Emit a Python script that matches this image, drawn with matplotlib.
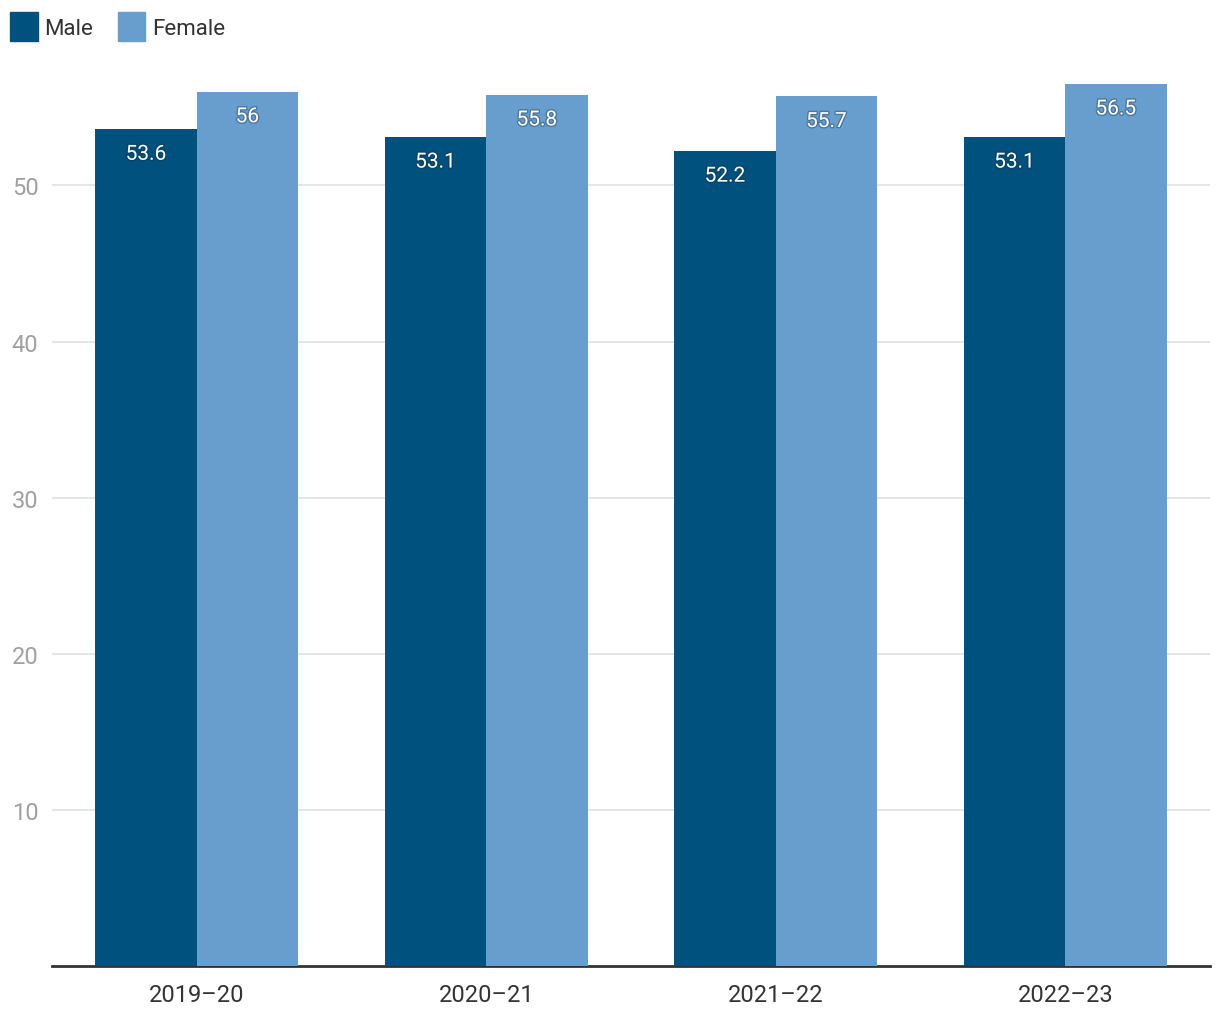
import numpy as np
import matplotlib.pyplot as plt
import matplotlib.patheffects as pe
from matplotlib.patches import Patch

plt.rcParams['font.family'] = ['Roboto', 'DejaVu Sans']

years = ['2019–20', '2020–21', '2021–22', '2022–23']
male = [53.6, 53.1, 52.2, 53.1]
female = [56, 55.8, 55.7, 56.5]
labels_male = ['53.6', '53.1', '52.2', '53.1']
labels_female = ['56', '55.8', '55.7', '56.5']

male_color = '#00517d'
female_color = '#679ece'

fig = plt.figure(figsize=(12.2, 10.2), dpi=100)
ax = fig.add_axes([52 / 1220, 1 - 967 / 1020, 1158 / 1220, (967 - 60) / 1020])

x = np.arange(len(years))
w = 0.35
b1 = ax.bar(x - w / 2, male, w, color=male_color, zorder=3)
b2 = ax.bar(x + w / 2, female, w, color=female_color, zorder=3)

# soft dark halo behind the white value labels
shadow = [pe.withStroke(linewidth=2, foreground='#1a2a3a', alpha=0.35)]
for bars, labs in ((b1, labels_male), (b2, labels_female)):
    for rect, lab in zip(bars, labs):
        ax.annotate(lab, (rect.get_x() + rect.get_width() / 2, rect.get_height()),
                    xytext=(0, -18), textcoords='offset points', ha='center', va='center',
                    color='white', fontsize=15, zorder=4, path_effects=shadow)

ax.set_xlim(-0.5, 3.5)
ax.set_ylim(0, 58.1)
ax.set_yticks([10, 20, 30, 40, 50])
ax.set_xticks(x)
ax.set_xticklabels(years)
ax.grid(axis='y', color='#e3e3e3', linewidth=1.3, zorder=0)
for s in ['top', 'right', 'left']:
    ax.spines[s].set_visible(False)
ax.spines['bottom'].set_color('#333333')
ax.spines['bottom'].set_linewidth(2)
ax.tick_params(axis='y', length=0, labelsize=17, labelcolor='#a0a0a0', pad=29)
ax.tick_params(axis='x', length=0, labelsize=17, labelcolor='#333333', pad=12)
for lab in ax.get_yticklabels():
    lab.set_horizontalalignment('left')

handles = [Patch(color=male_color, label='Male'), Patch(color=female_color, label='Female')]
fig.legend(handles=handles, loc='upper left', bbox_to_anchor=(0.008, 0.987), ncol=2, frameon=False,
           fontsize=16, handlelength=1.25, handleheight=1.6, handletextpad=0.3, columnspacing=1.1,
           borderaxespad=0, borderpad=0, labelcolor='#333333')

fig.savefig('out.png', dpi=100)
